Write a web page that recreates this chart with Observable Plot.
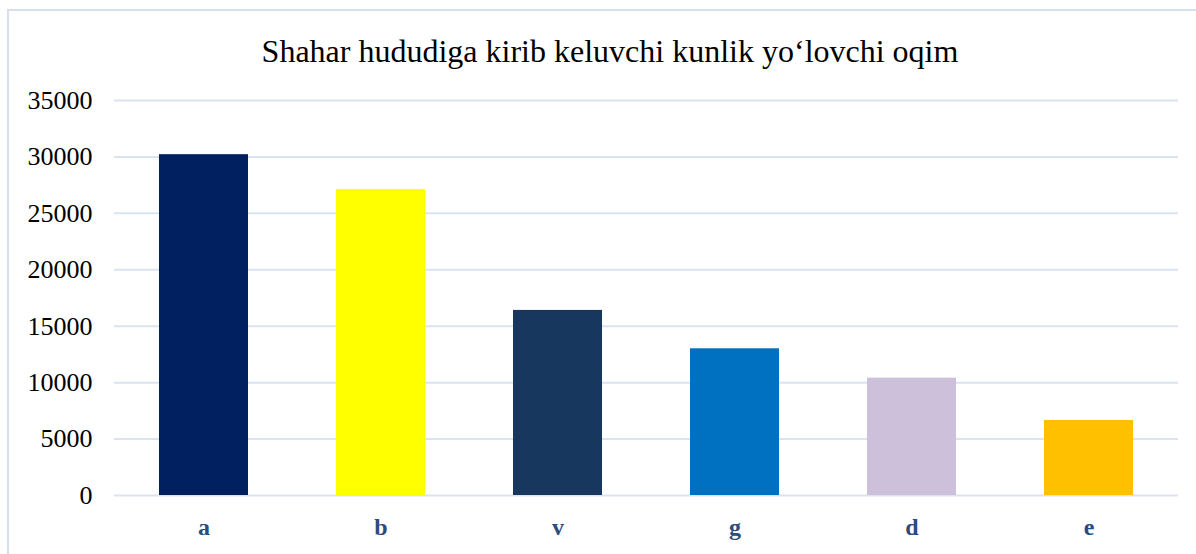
<!DOCTYPE html>
<html>
<head>
<meta charset="utf-8">
<script src="https://cdn.jsdelivr.net/npm/d3@7"></script>
<script src="https://cdn.jsdelivr.net/npm/@observablehq/plot@0.6"></script>
<style>
  html, body { margin: 0; padding: 0; background: #fff; overflow: hidden; }
  #wrap { position: relative; width: 1196px; height: 554px; overflow: hidden; font-family: "Liberation Serif", "Times New Roman", serif; }
  #frame { position: absolute; left: 7px; top: 9px; width: 1200px; height: 600px; border: 2px solid #d5e0ef; box-sizing: border-box; pointer-events: none; }
  #title { position: absolute; left: 0; width: 1220px; top: 33px; text-align: center; font-size: 32px; color: #000; }
  #chart { position: absolute; left: 0; top: 80px; }
  #chart svg, #chart svg text { font-family: "Liberation Serif", "Times New Roman", serif !important; }
</style>
</head>
<body>
<div id="wrap">
  <div id="title">Shahar hududiga kirib keluvchi kunlik yo‘lovchi oqim</div>
  <div id="chart"></div>
  <div id="frame"></div>
</div>
<script>
const categories = ["a", "b", "v", "g", "d", "e"];
const values = [30200, 27100, 16400, 13000, 10400, 6650];
const colors = ["#002060", "#FFFF00", "#17375E", "#0070C0", "#CCC0DA", "#FFC000"];
const yTicks = [0, 5000, 10000, 15000, 20000, 25000, 30000, 35000];

const data = categories.map((c, i) => ({cat: c, value: values[i], color: colors[i]}));

const chart = Plot.plot({
  width: 1196,
  height: 474,
  marginLeft: 114,
  marginRight: 18,
  marginTop: 20,
  marginBottom: 59,
  style: { fontFamily: "Liberation Serif, Times New Roman, serif", background: "transparent" },
  x: { domain: categories, paddingInner: 0.5, paddingOuter: 0.25, label: null },
  y: { domain: [0, 35000], ticks: yTicks, label: null },
  marks: [
    Plot.ruleY(yTicks, { stroke: "#d9e3f2", strokeWidth: 2 }),
    Plot.barY(data, { x: "cat", y: "value", fill: "color" }),
    Plot.axisY(yTicks, { tickSize: 0, tickPadding: 22, fontSize: 26, fill: "#000", label: null, tickFormat: d => String(d) }),
    Plot.axisX({ tickSize: 0, tickPadding: 22, fontSize: 24, fontWeight: "bold", fill: "#2B4C7E", label: null })
  ]
});
document.getElementById("chart").appendChild(chart);
</script>
</body>
</html>
